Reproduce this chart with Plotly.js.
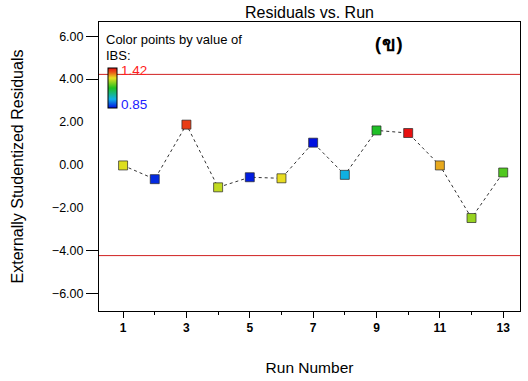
<!DOCTYPE html>
<html>
<head>
<meta charset="utf-8">
<script src="https://cdn.plot.ly/plotly-2.35.2.min.js"></script>
<style>html,body{margin:0;padding:0;background:#fff;}#chart{width:528px;height:381px;}</style>
</head>
<body>
<div id="chart"></div>
<script>
// Data
const runNumber = [1, 2, 3, 4, 5, 6, 7, 8, 9, 10, 11, 12, 13];
const residuals = [-0.02, -0.66, 1.88, -1.04, -0.57, -0.62, 1.04, -0.46, 1.61, 1.49, -0.02, -2.47, -0.35];
const ibs = [1.27, 0.87, 1.38, 1.25, 0.86, 1.28, 0.85, 0.98, 1.13, 1.42, 1.31, 1.22, 1.17];
const ibsMin = 0.85;
const ibsMax = 1.42;
const limits = [4.22, -4.22];
const yTickVals = [6, 4, 2, 0, -2, -4, -6];
const yTickMarks = [6, 4, -4, -6];
const xTickVals = [1, 3, 5, 7, 9, 11, 13];

const font = 'Liberation Sans, Arial, sans-serif';
const scale = [[0, '#0010e0'], [0.22, '#10b0e8'], [0.5, '#20c020'], [0.75, '#e8e020'], [0.9, '#e85018'], [1, '#e81010']];

const traces = [
  {
    x: runNumber, y: residuals, type: 'scatter', mode: 'lines',
    line: {color: '#333', width: 1, dash: 'dot'}, hoverinfo: 'skip', showlegend: false
  },
  {
    x: runNumber, y: residuals, type: 'scatter', mode: 'markers', showlegend: false,
    marker: {
      symbol: 'square', size: 9, color: ibs, cmin: ibsMin, cmax: ibsMax, colorscale: scale,
      line: {color: 'rgba(40,40,40,0.7)', width: 1},
      showscale: true,
      colorbar: {
        x: 0.021, xanchor: 'left', y: 0.772, yanchor: 'middle',
        thickness: 9, thicknessmode: 'pixels', len: 40, lenmode: 'pixels',
        xpad: 0, ypad: 0, outlinewidth: 1, outlinecolor: '#000',
        ticks: '', showticklabels: false, bgcolor: 'rgba(0,0,0,0)', borderwidth: 0
      }
    }
  },
  {x: [], y: [], yaxis: 'y2', type: 'scatter', mode: 'markers', showlegend: false, hoverinfo: 'skip'}
];

const shapes = limits.map(v => ({
  type: 'line', xref: 'paper', x0: 0, x1: 1, yref: 'y', y0: v, y1: v,
  line: {color: '#d02020', width: 1}
}));

const legendFont = {family: font, size: 13, color: '#000'};
const annotations = [
  {xref: 'paper', yref: 'paper', x: 0.012, y: 0.94, xanchor: 'left', yanchor: 'middle',
   text: 'Color points by value of', showarrow: false, font: legendFont},
  {xref: 'paper', yref: 'paper', x: 0.012, y: 0.884, xanchor: 'left', yanchor: 'middle',
   text: 'IBS:', showarrow: false, font: legendFont},
  {xref: 'paper', yref: 'paper', x: 0.048, y: 0.833, xanchor: 'left', yanchor: 'middle',
   text: ibsMax.toFixed(2), showarrow: false, font: {family: font, size: 13.5, color: '#ff2020'}},
  {xref: 'paper', yref: 'paper', x: 0.048, y: 0.715, xanchor: 'left', yanchor: 'middle',
   text: ibsMin.toFixed(2), showarrow: false, font: {family: font, size: 13.5, color: '#2020ff'}},
  {xref: 'paper', yref: 'paper', x: 0.69, y: 0.925, xanchor: 'center', yanchor: 'middle',
   text: '<b>(ข)</b>', showarrow: false, font: {family: 'Noto Sans, DejaVu Sans, sans-serif', size: 20, color: '#000'}}
];

const layout = {
  width: 528, height: 381,
  margin: {l: 99, r: 8, t: 22, b: 70, pad: 0},
  paper_bgcolor: '#fff', plot_bgcolor: '#fff',
  font: {family: font, size: 12, color: '#000'},
  title: {text: 'Residuals vs. Run', font: {family: font, size: 16, color: '#000'},
          x: 0.5, xref: 'paper', y: 0.982, yref: 'container', yanchor: 'top'},
  xaxis: {
    range: [0.24, 13.53], tickvals: xTickVals, ticktext: xTickVals.map(v => '<b>' + v + '</b>'),
    ticks: 'outside', ticklen: 6, tickcolor: '#000', tickwidth: 1,
    minor: {dtick: 1, tick0: 0, ticks: 'outside', ticklen: 3, tickcolor: '#000', showgrid: false},
    showgrid: false, zeroline: false, showline: true, linecolor: '#000', linewidth: 1, mirror: true,
    tickfont: {family: font, size: 12, color: '#000'},
    title: {text: 'Run Number', font: {family: font, size: 15.5, color: '#000'}, standoff: 27}
  },
  yaxis: {
    range: [-6.8, 6.66], tickvals: yTickVals, tickformat: '.2f',
    ticks: 'outside', ticklen: 12, tickcolor: 'rgba(0,0,0,0)',
    showgrid: false, zeroline: false, showline: true, linecolor: '#000', linewidth: 1, mirror: true,
    tickfont: {family: font, size: 12.5, color: '#000'},
    title: {text: 'Externally Studentized Residuals', font: {family: font, size: 16, color: '#000'}, standoff: 24}
  },
  yaxis2: {
    overlaying: 'y', side: 'left', range: [-6.8, 6.66], tickvals: yTickMarks,
    ticks: 'outside', ticklen: 12, tickcolor: '#000', tickwidth: 1, showticklabels: false,
    showgrid: false, zeroline: false, showline: false
  },
  shapes: shapes,
  annotations: annotations
};

Plotly.newPlot('chart', traces, layout, {displayModeBar: false, staticPlot: true});
</script>
</body>
</html>
